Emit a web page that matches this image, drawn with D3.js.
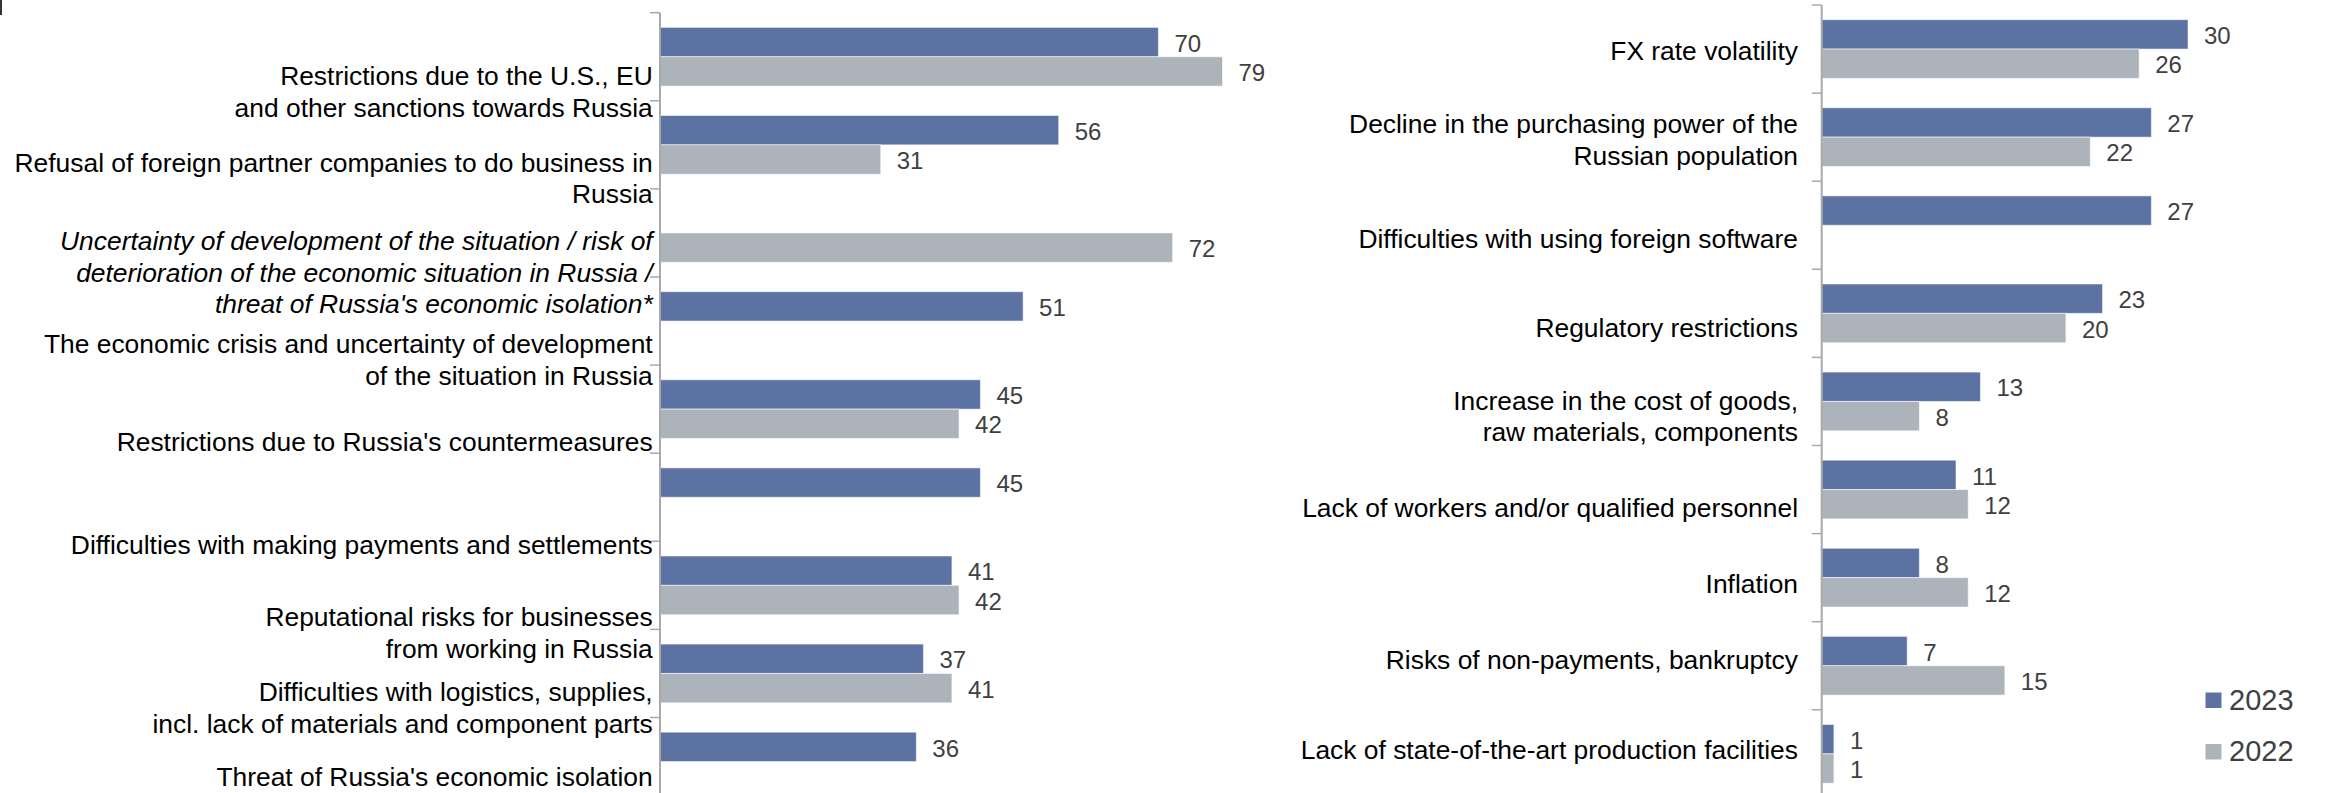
<!DOCTYPE html>
<html>
<head>
<meta charset="utf-8">
<script src="https://cdn.jsdelivr.net/npm/d3@7"></script>
<style>
  html, body { margin: 0; padding: 0; background: #ffffff; }
  svg { display: block; font-family: "Liberation Sans", Arial, sans-serif; }
</style>
</head>
<body>
<svg id="chart" width="2330" height="793"></svg>
<script>
// ---- Data -------------------------------------------------------------
const seriesNames = ["2023", "2022"];

const leftCategories = [
  ["Restrictions due to the U.S., EU", "and other sanctions towards Russia"],
  ["Refusal of foreign partner companies to do business in", "Russia"],
  ["Uncertainty of development of the situation / risk of", "deterioration of the economic situation in Russia /", "threat of Russia's economic isolation*"],
  ["The economic crisis and uncertainty of development", "of the situation in Russia"],
  ["Restrictions due to Russia's countermeasures"],
  ["Difficulties with making payments and settlements"],
  ["Reputational risks for businesses", "from working in Russia"],
  ["Difficulties with logistics, supplies,", "incl. lack of materials and component parts"],
  ["Threat of Russia's economic isolation"]
];
const left2023 = [70, 56, null, 51, 45, 45, 41, 37, 36];
const left2022 = [79, 31, 72, null, 42, null, 42, 41, null];
const leftItalic = [false, false, true, false, false, false, false, false, false];

const rightCategories = [
  ["FX rate volatility"],
  ["Decline in the purchasing power of the", "Russian population"],
  ["Difficulties with using foreign software"],
  ["Regulatory restrictions"],
  ["Increase in the cost of goods,", "raw materials, components"],
  ["Lack of workers and/or qualified personnel"],
  ["Inflation"],
  ["Risks of non-payments, bankruptcy"],
  ["Lack of state-of-the-art production facilities"]
];
const right2023 = [30, 27, 27, 23, 13, 11, 8, 7, 1];
const right2022 = [26, 22, null, 20, 8, 12, 12, 15, 1];

// ---- Layout -------------------------------------------------------------
// Baseline of each category label's first line, relative to its band centre.
const leftLabelShift = [28.3, 26.9, 17.1, 32.3, 42.2, 56.5, 41.0, 27.9, 24.8];
const rightLabelShift = [11.0, -3.8, 23.1, 23.4, 8.3, 27.5, 15.4, 3.3, 5.0];

const colors = { "2023": "#5b72a2", "2022": "#adb3ba" };
const labelFont = 26.4, lineGap = 31.7, valueFont = 24, legendFont = 29;

const svg = d3.select("#chart");

// small mark in the top-left corner
svg.append("rect").attr("x", 0).attr("y", 0).attr("width", 2).attr("height", 15).attr("fill", "#333");

function panel(opts) {
  const { cats, v23, v22, italic, shift, axisX, top, step, xMax, pxPerUnit, labelEnd } = opts;
  const n = cats.length;
  const g = svg.append("g");

  const y = d3.scaleBand()
    .domain(d3.range(n))
    .range([top, top + step * n])
    .paddingInner(1 / 3)
    .paddingOuter(1 / 6);
  const ySeries = d3.scaleBand().domain(seriesNames).range([0, y.bandwidth()]);
  const x = d3.scaleLinear().domain([0, xMax]).range([axisX, axisX + pxPerUnit * xMax]);
  const boundary = d3.scaleLinear().domain([0, n]).range(y.range());

  const rows = d3.range(n).flatMap(i => [
    { i, s: "2023", v: v23[i] },
    { i, s: "2022", v: v22[i] }
  ]).filter(d => d.v != null);

  g.selectAll("rect.bar").data(rows).join("rect")
    .attr("class", "bar")
    .attr("x", x(0))
    .attr("y", d => y(d.i) + ySeries(d.s))
    .attr("width", d => x(d.v) - x(0))
    .attr("height", ySeries.bandwidth())
    .attr("fill", d => colors[d.s])
    .attr("stroke", "rgba(255,255,255,0.55)")
    .attr("stroke-width", 1);

  g.selectAll("text.val").data(rows).join("text")
    .attr("class", "val")
    .attr("x", d => x(d.v) + 16)
    .attr("y", d => y(d.i) + ySeries(d.s) + ySeries.bandwidth() / 2 + 1)
    .attr("dy", "0.36em")
    .attr("font-size", valueFont)
    .attr("fill", "#404040")
    .text(d => d.v);

  // axis line with ticks on the band boundaries
  g.append("line")
    .attr("x1", axisX).attr("x2", axisX)
    .attr("y1", boundary(0)).attr("y2", boundary(n))
    .attr("stroke", "#a9a9a9").attr("stroke-width", 2);
  g.selectAll("line.tick").data(d3.range(n + 1)).join("line")
    .attr("class", "tick")
    .attr("x1", axisX - 10).attr("x2", axisX)
    .attr("y1", d => boundary(d)).attr("y2", d => boundary(d))
    .attr("stroke", "#a9a9a9").attr("stroke-width", 1.5);

  // category labels
  const lab = g.selectAll("text.cat").data(cats).join("text")
    .attr("class", "cat")
    .attr("text-anchor", "end")
    .attr("font-size", labelFont)
    .attr("fill", "#000")
    .attr("font-style", (d, i) => italic && italic[i] ? "italic" : "normal");
  lab.each(function (lines, i) {
    const base = y(i) + y.bandwidth() / 2 + shift[i];
    d3.select(this).selectAll("tspan").data(lines).join("tspan")
      .attr("x", labelEnd)
      .attr("y", (l, k) => base + k * lineGap)
      .text(l => l);
  });
}

panel({
  cats: leftCategories, v23: left2023, v22: left2022, italic: leftItalic,
  shift: leftLabelShift, axisX: 660, top: 12.7, step: 88.1,
  xMax: 100, pxPerUnit: 7.12, labelEnd: 652.7
});

panel({
  cats: rightCategories, v23: right2023, v22: right2022, italic: null,
  shift: rightLabelShift, axisX: 1821.7, top: 5, step: 88.1,
  xMax: 40, pxPerUnit: 12.21, labelEnd: 1798
});

// legend
const legend = svg.append("g");
const legendRows = seriesNames.map((s, i) => ({ s, i }));
legend.selectAll("rect").data(legendRows).join("rect")
  .attr("x", 2205.5)
  .attr("y", d => 692.5 + d.i * 51.5)
  .attr("width", 16).attr("height", 15.5)
  .attr("fill", d => colors[d.s]);
legend.selectAll("text").data(legendRows).join("text")
  .attr("x", 2229)
  .attr("y", d => 709.5 + d.i * 51.5)
  .attr("font-size", legendFont)
  .attr("fill", "#3d4046")
  .text(d => d.s);
</script>
</body>
</html>
